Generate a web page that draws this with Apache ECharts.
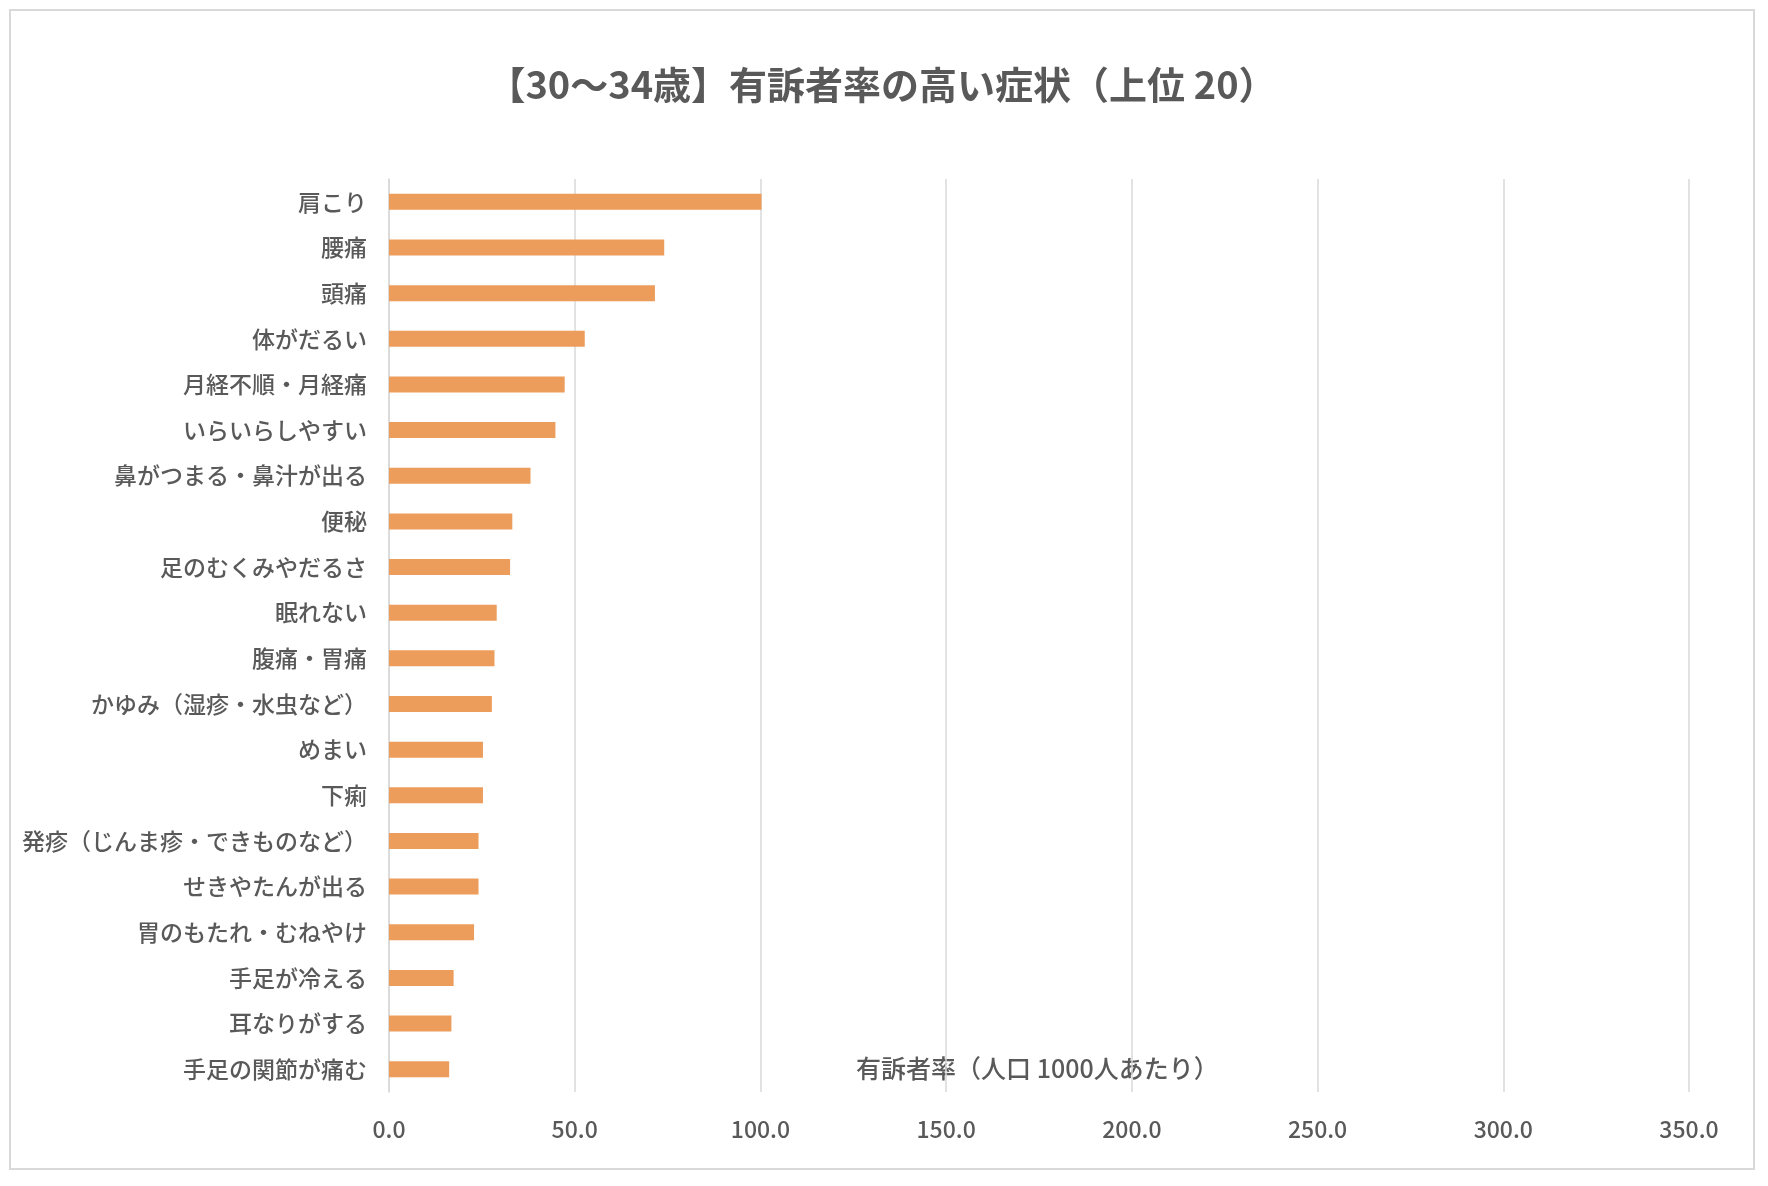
<!DOCTYPE html>
<html><head><meta charset="utf-8">
<script src="https://cdn.jsdelivr.net/npm/echarts@6/dist/echarts.min.js"></script>
<style>
body{margin:0;background:#fff;}
#main{position:absolute;left:9px;top:9px;width:1746px;height:1161px;border:2px solid #d9d9d9;box-sizing:border-box;}
</style></head>
<body><div id="main"></div>
<script>
// 症状（上から順）
var categories = ['肩こり','腰痛','頭痛','体がだるい','月経不順・月経痛','いらいらしやすい','鼻がつまる・鼻汁が出る','便秘','足のむくみやだるさ','眠れない','腹痛・胃痛','かゆみ（湿疹・水虫など）','めまい','下痢','発疹（じんま疹・できものなど）','せきやたんが出る','胃のもたれ・むねやけ','手足が冷える','耳なりがする','手足の関節が痛む'];
var values = [100.3,74.1,71.6,52.7,47.3,44.8,38.1,33.2,32.6,29.0,28.4,27.7,25.3,25.3,24.1,24.1,22.9,17.4,16.8,16.2];

var myChart = echarts.init(document.getElementById('main'));
myChart.setOption({
	title : {
		text : '【30～34歳】有訴者率の高い症状（上位 20）',
		left : 'center', top : 50,
		textStyle : { fontFamily : 'Noto Sans CJK JP', fontSize : 38, fontWeight : 'bold', color : '#595959' }
	},
	grid : { left : 378, right : 64, top : 168, bottom : 76 },
	xAxis : {
		type : 'value', min : 0, max : 350, interval : 50,
		axisLabel : { formatter : function(v){ return v.toFixed(1); }, fontSize : 23, color : '#595959', margin : 26, fontFamily : 'Noto Sans CJK JP', fontWeight : 500 },
		splitLine : { lineStyle : { color : '#d9d9d9', width : 1.5 } },
		axisLine : { show : false }, axisTick : { show : false }
	},
	yAxis : {
		type : 'category', inverse : true, data : categories,
		axisLabel : { fontSize : 23, color : '#595959', margin : 22, fontFamily : 'Noto Sans CJK JP', fontWeight : 500 },
		axisLine : { lineStyle : { color : '#d9d9d9', width : 1.5 } },
		axisTick : { show : false }
	},
	graphic : [{
		type : 'text', left : 845, top : 1045,
		style : { text : '有訴者率（人口 1000人あたり）', fontSize : 25, fill : '#595959', fontFamily : 'Noto Sans CJK JP', fontWeight : 500 }
	}],
	series : [ {
		type : 'bar', data : values, barWidth : 16,
		itemStyle : { color : '#ED9D5B' }
	} ]
});
</script></body></html>
